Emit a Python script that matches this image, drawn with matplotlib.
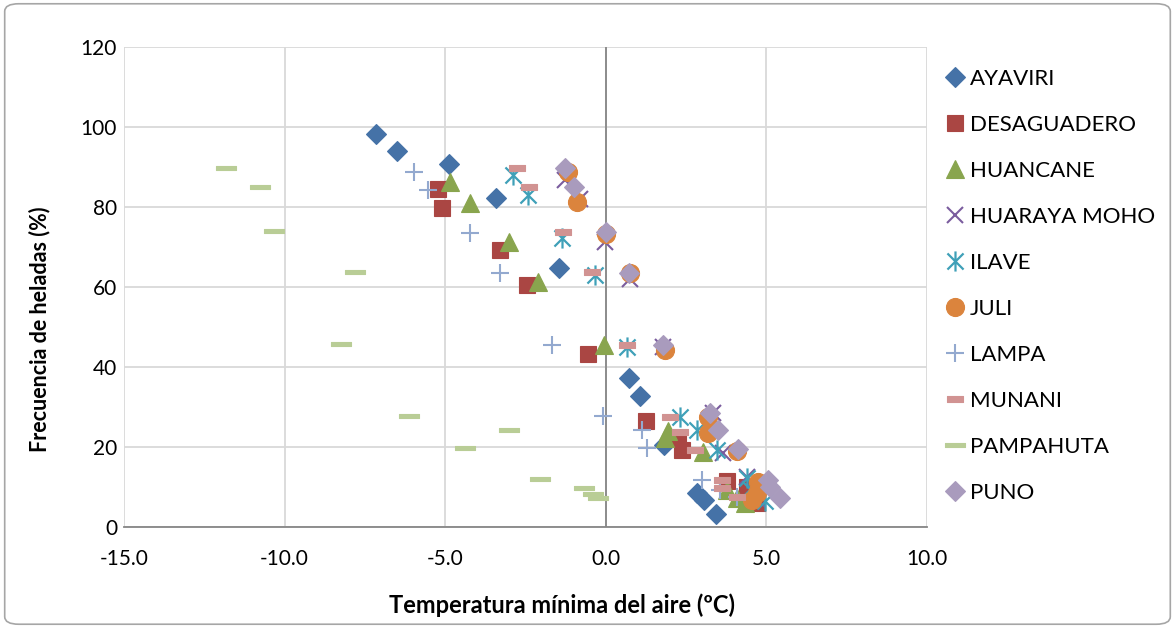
import matplotlib as mpl
import matplotlib.pyplot as plt
from matplotlib.path import Path
from matplotlib.patches import FancyBboxPatch

# station names
stations = ["AYAVIRI", "DESAGUADERO", "HUANCANE", "HUARAYA MOHO", "ILAVE",
            "JULI", "LAMPA", "MUNANI", "PAMPAHUTA", "PUNO"]

# minimum air temperature (C) / frost frequency (%) per station
ayaviri_t = [-7.16, -6.5, -4.89, -3.42, -1.46, 0.72, 1.06, 1.8, 2.83, 3.05, 3.42]
ayaviri_f = [98.3, 94.0, 90.8, 82.2, 64.7, 37.2, 32.7, 20.5, 8.5, 6.7, 3.2]

desaguadero_t = [-5.23, -5.1, -3.3, -2.46, -0.56, 1.25, 2.24, 2.37, 3.77, 4.39, 4.7]
desaguadero_f = [84.5, 79.7, 69.2, 60.5, 43.2, 26.5, 22.2, 19.2, 11.5, 10.0, 6.0]

huancane_t = [-4.86, -4.23, -3.02, -2.12, -0.06, 1.84, 1.95, 3.02, 3.77, 4.1, 4.33]
huancane_f = [86.3, 81.0, 71.2, 61.2, 45.5, 22.2, 24.0, 18.75, 9.2, 7.2, 6.0]

huaraya_t = [-1.28, -0.8, -0.03, 0.75, 1.77, 3.33, 3.64, 4.39, 4.6, 4.7]
huaraya_f = [86.7, 82.0, 71.2, 62.0, 45.0, 28.5, 18.5, 12.5, 9.0, 7.0]

ilave_t = [-2.9, -2.43, -1.37, -0.34, 0.65, 2.3, 2.83, 3.46, 4.39, 4.5, 4.95]
ilave_f = [88.0, 83.0, 72.2, 63.0, 45.0, 27.5, 24.2, 19.2, 12.2, 9.5, 6.5]

juli_t = [-1.18, -0.9, 0.0, 0.75, 1.84, 3.18, 3.18, 4.08, 4.73, 4.7, 4.55]
juli_f = [88.7, 81.2, 73.2, 63.5, 44.2, 27.5, 23.5, 18.9, 11.2, 8.5, 6.7]

lampa_t = [-5.98, -5.54, -4.23, -3.3, -1.68, -0.09, 1.12, 1.28, 2.99, 3.55, 4.08]
lampa_f = [88.7, 84.2, 73.5, 63.5, 45.5, 27.7, 24.2, 19.7, 11.7, 9.2, 7.5]

munani_t = [-2.77, -2.4, -1.34, -0.44, 0.65, 1.99, 2.3, 2.77, 3.61, 3.61, 4.08]
munani_f = [89.7, 85.0, 73.7, 63.7, 45.5, 27.5, 23.7, 19.2, 11.7, 9.7, 7.5]

pampahuta_t = [-11.83, -10.77, -10.34, -7.81, -8.25, -6.13, -3.02, -4.39, -2.05, -0.68, -0.4, -0.25]
pampahuta_f = [89.7, 85.0, 74.0, 63.7, 45.7, 27.7, 24.2, 19.7, 12.0, 9.7, 8.2, 7.2]

puno_t = [-1.28, -1.0, 0.0, 0.72, 1.77, 3.24, 3.49, 4.11, 5.04, 5.1, 5.42]
puno_f = [89.7, 85.0, 73.7, 63.5, 45.5, 28.5, 24.2, 19.5, 11.7, 10.0, 7.2]

x_ticks = [-15, -10, -5, 0, 5, 10]
y_ticks = [0, 20, 40, 60, 80, 100, 120]


def dash_marker(w, h):
    return Path([(-w, -h), (w, -h), (w, h), (-w, h), (-w, -h)], closed=True)


# excel "star": an x with a vertical stroke through it
star = Path([(-1, -1), (1, 1), (-1, 1), (1, -1), (0, -1.25), (0, 1.25)],
            [Path.MOVETO, Path.LINETO, Path.MOVETO, Path.LINETO, Path.MOVETO, Path.LINETO])

styles = [
    dict(marker="D", color="#4572A7", ms=10),
    dict(marker="s", color="#AA4643", ms=11.5),
    dict(marker="^", color="#89A54E", ms=13),
    dict(marker="x", color="#7A5C9E", ms=11.5, mew=1.5),
    dict(marker=star, color="#3FA0B8", ms=14.5, mew=1.6),
    dict(marker="o", color="#DB843D", ms=13),
    dict(marker="+", color="#93A9CF", ms=13, mew=1.5),
    dict(marker=dash_marker(1.0, 0.45), color="#D19392", ms=11),
    dict(marker=dash_marker(1.0, 0.22), color="#B9CD96", ms=15),
    dict(marker="D", color="#A99BBD", ms=10),
]

series = [(ayaviri_t, ayaviri_f), (desaguadero_t, desaguadero_f),
          (huancane_t, huancane_f), (huaraya_t, huaraya_f), (ilave_t, ilave_f),
          (juli_t, juli_f), (lampa_t, lampa_f), (munani_t, munani_f),
          (pampahuta_t, pampahuta_f), (puno_t, puno_f)]

plt.rcParams['font.family'] = ['Lato', 'DejaVu Sans']

fig = plt.figure(figsize=(11.75, 6.28), dpi=100)
ax = fig.add_axes([124 / 1175, 1 - 527 / 628, 803 / 1175, 480 / 628])

for name, (t, f), st in zip(stations, series, styles):
    ax.plot(t, f, linestyle="none", marker=st["marker"], markersize=st["ms"],
            color=st["color"], markeredgecolor=st["color"],
            markeredgewidth=st.get("mew", 0.8), label=name, zorder=3)

ax.set_xlim(-15, 10)
ax.set_ylim(0, 120)
ax.set_xticks(x_ticks)
ax.set_xticklabels(["%.1f" % v for v in x_ticks])
ax.set_yticks(y_ticks)
ax.tick_params(labelsize=15, length=0, colors="black")
ax.tick_params(axis="x", pad=16)
ax.tick_params(axis="y", pad=5)
ax.grid(True, color="#D9D9D9", linewidth=1.3, zorder=0)
ax.set_axisbelow(True)
for s in ["top", "right", "left"]:
    ax.spines[s].set_visible(False)
ax.spines["bottom"].set_color("#868686")
ax.spines["bottom"].set_linewidth(1.3)
ax.axvline(0, color="#868686", linewidth=1.3, zorder=1)

ax.set_xlabel("Temperatura mínima del aire (ºC)", fontsize=17, fontweight="bold")
ax.set_ylabel("Frecuencia de heladas (%)", fontsize=15.5, fontweight="bold")
ax.xaxis.set_label_coords(0.545, -0.1625)
ax.yaxis.set_label_coords(-0.1046, 0.4125)
ax.xaxis.label.set_va("center")
ax.yaxis.label.set_va("center")

fig.legend(loc="upper left", bbox_to_anchor=(926 / 1175, 1 - 49 / 628), frameon=False,
           fontsize=16, numpoints=1, labelspacing=1.17, handletextpad=0.27,
           handlelength=0.8)

fig.patches.append(FancyBboxPatch((0.004, 0.006), 0.992, 0.988,
                                  boxstyle="round,pad=0,rounding_size=0.012",
                                  transform=fig.transFigure, facecolor="none",
                                  edgecolor="#A6A6A6", linewidth=1.2))

plt.savefig("out.png", dpi=100)
